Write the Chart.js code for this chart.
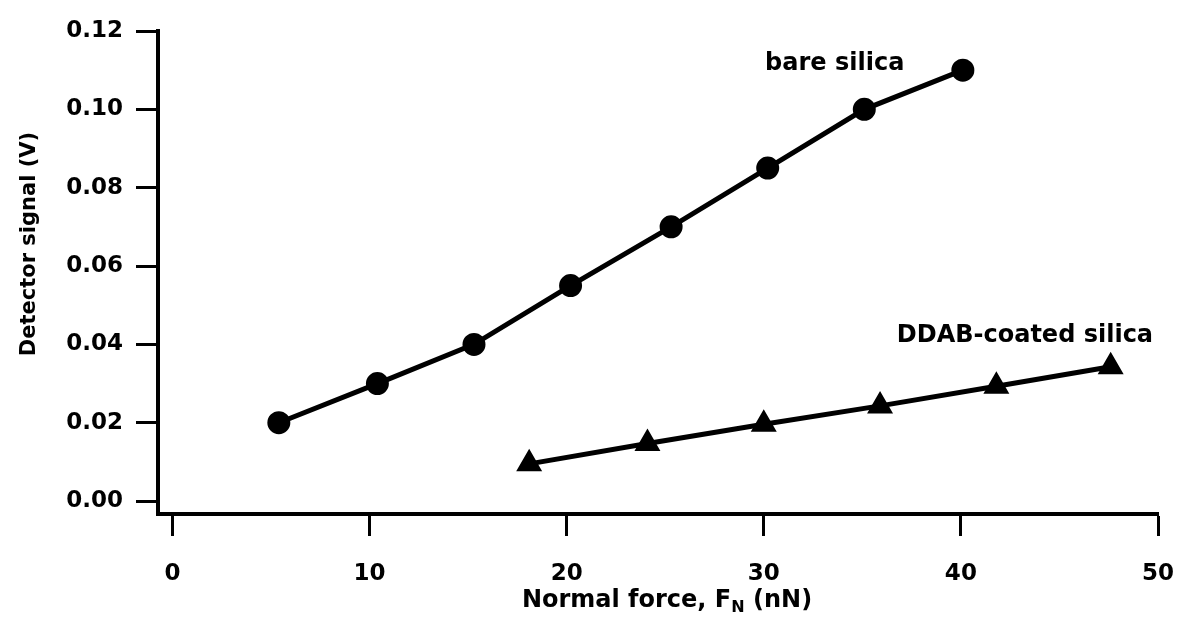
<!DOCTYPE html>
<html>
<head>
<meta charset="utf-8">
<script src="https://cdn.jsdelivr.net/npm/chart.js@4/dist/chart.umd.min.js"></script>
<style>
  html, body { margin: 0; padding: 0; background: #fff; }
  canvas { display: block; }
</style>
</head>
<body>
<canvas id="grafico" width="1179" height="618"></canvas>
<script>
// dados
const bareX = [5.4, 10.4, 15.3, 20.2, 25.3, 30.2, 35.1, 40.1];
const bareY = [0.020, 0.030, 0.040, 0.055, 0.070, 0.085, 0.100, 0.110];
const ddabX = [18.1, 24.1, 30.0, 35.9, 41.8, 47.6];
const ddabY = [0.0095, 0.0147, 0.0196, 0.0243, 0.0293, 0.0343];
const xTicks = [0, 10, 20, 30, 40, 50];
const yTicks = [0, 0.02, 0.04, 0.06, 0.08, 0.10, 0.12];

const fonte = '"DejaVu Sans"';

// textos extras: rótulos das curvas e títulos dos eixos
const textos = {
    id: 'textos',
    afterDraw(chart) {
        const { ctx, scales: { x, y } } = chart;
        ctx.save();
        ctx.fillStyle = '#000';
        ctx.textAlign = 'center';
        ctx.textBaseline = 'alphabetic';
        ctx.font = 'bold 24px ' + fonte;
        ctx.fillText('bare silica', x.getPixelForValue(33.6), y.getPixelForValue(0.110));
        ctx.fillText('DDAB-coated silica', x.getPixelForValue(43.25), y.getPixelForValue(0.0407));

        // título do eixo x com subscrito
        const partes = [
            { t: 'Normal force, F', f: 'bold 24px ' + fonte, dy: 0 },
            { t: 'N', f: 'bold 16px ' + fonte, dy: 5 },
            { t: ' (nN)', f: 'bold 24px ' + fonte, dy: 0 }
        ];
        let total = 0;
        partes.forEach(p => { ctx.font = p.f; p.w = ctx.measureText(p.t).width; total += p.w; });
        let px = 667 - total / 2;
        ctx.textAlign = 'left';
        partes.forEach(p => { ctx.font = p.f; ctx.fillText(p.t, px, 607 + p.dy); px += p.w; });

        // título do eixo y
        ctx.translate(30, 244);
        ctx.rotate(-Math.PI / 2);
        ctx.textAlign = 'center';
        ctx.textBaseline = 'middle';
        ctx.font = 'bold 21px ' + fonte;
        ctx.fillText('Detector signal (V)', 0, 0);
        ctx.restore();
    }
};

const ctx = document.getElementById('grafico').getContext('2d');

new Chart(ctx, {
    type: 'scatter',
    data: {
        datasets: [
            {
                label: 'bare silica',
                data: bareX.map((x, i) => ({ x, y: bareY[i] })),
                showLine: true,
                borderColor: '#000',
                backgroundColor: '#000',
                borderWidth: 5,
                pointStyle: 'circle',
                pointRadius: 9,
                clip: false
            },
            {
                label: 'DDAB-coated silica',
                data: ddabX.map((x, i) => ({ x, y: ddabY[i] })),
                showLine: true,
                borderColor: '#000',
                backgroundColor: '#000',
                borderWidth: 5,
                pointStyle: 'triangle',
                pointRadius: 10,
                clip: false
            }
        ]
    },
    options: {
        responsive: false,
        animation: false,
        layout: { padding: { top: 31, right: 21, left: 0, bottom: 0 } },
        plugins: {
            legend: { display: false },
            tooltip: { enabled: false }
        },
        scales: {
            x: {
                type: 'linear',
                min: -0.73,
                max: 50,
                afterBuildTicks: s => { s.ticks = xTicks.map(v => ({ value: v })); },
                afterFit: s => { s.height = 104; s.paddingLeft = 0; s.paddingRight = 0; },
                border: { display: true, color: '#000', width: 4 },
                grid: { drawOnChartArea: false, tickLength: 22, tickWidth: 3, tickColor: '#000' },
                ticks: {
                    color: '#000',
                    padding: 24,
                    maxRotation: 0,
                    autoSkip: false,
                    font: { family: 'DejaVu Sans', weight: 'bold', size: 23 },
                    callback: v => String(v)
                }
            },
            y: {
                type: 'linear',
                min: -0.0033,
                max: 0.12,
                afterBuildTicks: s => { s.ticks = yTicks.map(v => ({ value: v })); },
                afterFit: s => { s.width = 158; },
                border: { display: true, color: '#000', width: 4 },
                grid: { drawOnChartArea: false, tickLength: 22, tickWidth: 3, tickColor: '#000' },
                ticks: {
                    color: '#000',
                    padding: 13,
                    autoSkip: false,
                    font: { family: 'DejaVu Sans', weight: 'bold', size: 23 },
                    callback: v => v.toFixed(2)
                }
            }
        }
    },
    plugins: [textos]
});
</script>
</body>
</html>
